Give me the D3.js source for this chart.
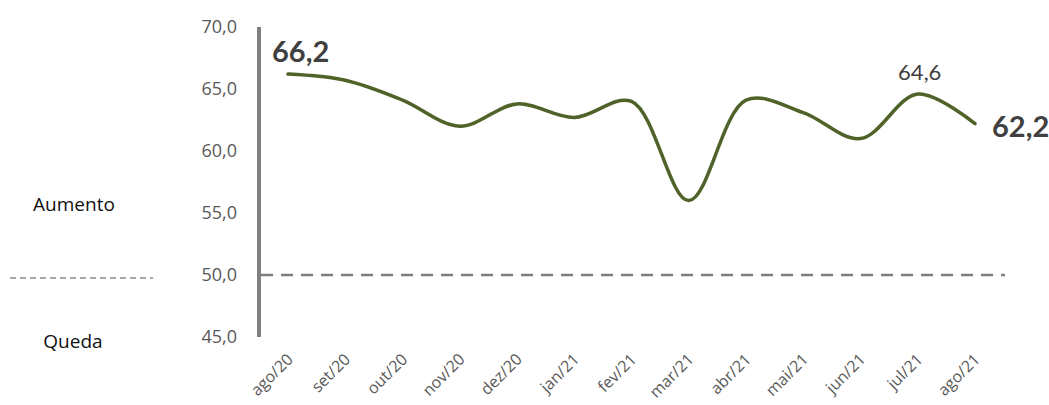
<!DOCTYPE html>
<html>
<head>
<meta charset="utf-8">
<script src="https://cdn.jsdelivr.net/npm/d3@7"></script>
<style>
  body { margin: 0; background: #fff; }
  svg text { font-family: "Open Sans", Lato, sans-serif; }
  svg text.num { font-family: Lato, sans-serif; }
</style>
</head>
<body>
<svg id="chart" width="1049" height="405"></svg>
<script>
// months and index values
const months = ["ago/20", "set/20", "out/20", "nov/20", "dez/20", "jan/21", "fev/21",
  "mar/21", "abr/21", "mai/21", "jun/21", "jul/21", "ago/21"];
const values = [66.2, 65.7, 64.1, 62.0, 63.8, 62.7, 64.0, 56.0, 64.1, 63.1, 61.0, 64.6, 62.2];
const yTicks = [45, 50, 55, 60, 65, 70];
const neutral = 50;
const bigLabels = [0, 12];   // bold labels, first and last
const smallLabels = [11];    // jul/21

const svg = d3.select("#chart");
const fmt = v => d3.format(".1f")(v).replace(".", ",");

const x = d3.scalePoint().domain(months).range([288, 975]);
const y = d3.scaleLinear().domain([45, 70]).range([337, 27]);

// y axis labels (no ticks), thick grey line
const yAxis = d3.axisLeft(y).tickValues(yTicks).tickSize(0).tickPadding(22).tickFormat(fmt);
const yg = svg.append("g").attr("transform", "translate(259,0)").call(yAxis);
yg.select(".domain").remove();
yg.selectAll("text").attr("fill", "#595959").style("font-size", "18px");
svg.append("line")
  .attr("x1", 259).attr("x2", 259).attr("y1", y(70)).attr("y2", y(45))
  .attr("stroke", "#7f7f7f").attr("stroke-width", 4);

// dashed 50 line
svg.append("line")
  .attr("x1", 261).attr("x2", 1005).attr("y1", y(neutral)).attr("y2", y(neutral))
  .attr("stroke", "#7f7f7f").attr("stroke-width", 2.5).attr("stroke-dasharray", "12,8");

// legend on the left
svg.append("line")
  .attr("x1", 10).attr("x2", 153).attr("y1", 278).attr("y2", 278)
  .attr("stroke", "#8c8c8c").attr("stroke-width", 1.3).attr("stroke-dasharray", "6,4");
svg.append("text").attr("x", 74).attr("y", 211).attr("text-anchor", "middle")
  .attr("fill", "#111").style("font-size", "19px").text("Aumento");
svg.append("text").attr("x", 73).attr("y", 348).attr("text-anchor", "middle")
  .attr("fill", "#111").style("font-size", "19px").text("Queda");

// x axis labels, rotated
const xAxis = d3.axisBottom(x).tickSize(0).tickPadding(0);
const xg = svg.append("g").attr("transform", "translate(0,357)").call(xAxis);
xg.select(".domain").remove();
xg.selectAll("text")
  .attr("fill", "#595959").style("font-size", "16px")
  .attr("text-anchor", "end")
  .attr("dy", "0.3em")
  .attr("transform", "translate(2,0) rotate(-45)");

// the line
const line = d3.line()
  .x((d, i) => x(months[i]))
  .y(d => y(d))
  .curve(d3.curveCatmullRom.alpha(0.5));
svg.append("path").datum(values)
  .attr("d", line)
  .attr("fill", "none")
  .attr("stroke", "#4f6228")
  .attr("stroke-width", 3.5)
  .attr("stroke-linecap", "round");

// data labels
svg.append("text").attr("class", "num").attr("x", x(months[bigLabels[0]]) - 16).attr("y", 62)
  .attr("fill", "#404040").style("font-size", "29px").style("font-weight", "bold")
  .text(fmt(values[bigLabels[0]]));
svg.append("text").attr("class", "num").attr("x", x(months[bigLabels[1]]) + 17).attr("y", y(values[bigLabels[1]]) + 13)
  .attr("fill", "#404040").style("font-size", "29px").style("font-weight", "bold")
  .text(fmt(values[bigLabels[1]]));
smallLabels.forEach(i => {
  svg.append("text").attr("class", "num").attr("x", x(months[i]) + 2).attr("y", y(values[i]) - 14)
    .attr("text-anchor", "middle")
    .attr("fill", "#404040").style("font-size", "22px")
    .text(fmt(values[i]));
});
</script>
</body>
</html>
